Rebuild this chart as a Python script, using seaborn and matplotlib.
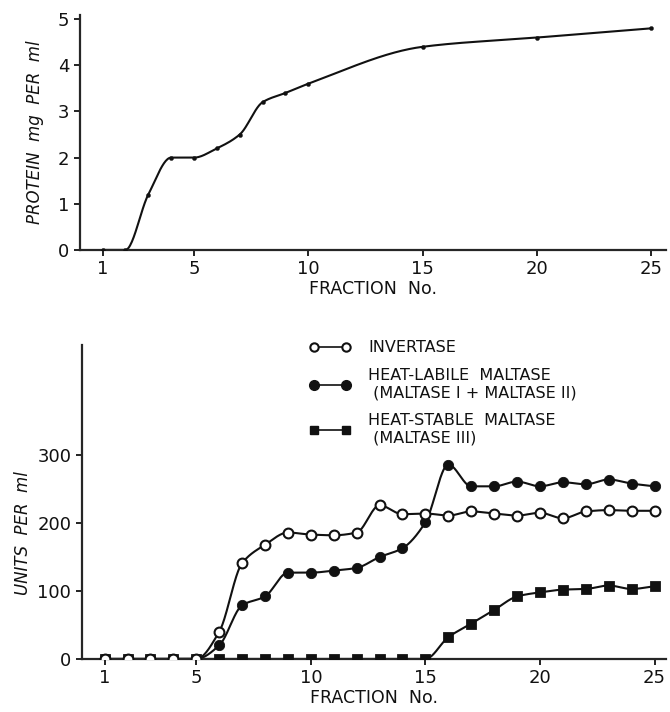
import numpy as np
import pandas as pd
import matplotlib
matplotlib.use("Agg")
import matplotlib.pyplot as plt
import seaborn as sns
from matplotlib.lines import Line2D

# ---------------- data ----------------
protein_fraction = [1, 2, 3, 4, 5, 6, 7, 8, 9, 10, 15, 20, 25]
protein_mg = [0, 0, 1.2, 2.0, 2.0, 2.2, 2.5, 3.2, 3.4, 3.6, 4.4, 4.6, 4.8]

fraction = list(range(1, 26))
invertase = [0, 0, 0, 0, 0, 40, 141, 168, 186, 183, 182, 186, 226, 213, 214,
             211, 217, 214, 211, 215, 207, 217, 219, 218, 218]
heat_labile = [0, 0, 0, 0, 0, 20, 79, 92, 127, 127, 130, 134, 150, 163, 201,
               286, 254, 254, 261, 254, 260, 257, 264, 258, 254]
heat_stable = [0, 0, 0, 0, 0, 0, 0, 0, 0, 0, 0, 0, 0, 0, 0,
               32, 52, 72, 92, 98, 102, 103, 108, 103, 107]

x_ticks = [1, 5, 10, 15, 20, 25]
protein_ticks = [0, 1, 2, 3, 4, 5]
units_ticks = [0, 100, 200, 300]

legend_labels = ["INVERTASE",
                 "HEAT-LABILE  MALTASE\n (MALTASE I + MALTASE II)",
                 "HEAT-STABLE  MALTASE\n (MALTASE III)"]


def pchip(x, y, xs):
    x = np.asarray(x, float)
    y = np.asarray(y, float)
    h = np.diff(x)
    d = np.diff(y) / h
    n = len(x)
    m = np.zeros(n)
    for k in range(1, n - 1):
        if d[k - 1] * d[k] <= 0:
            m[k] = 0.0
        else:
            w1 = 2 * h[k] + h[k - 1]
            w2 = h[k] + 2 * h[k - 1]
            m[k] = (w1 + w2) / (w1 / d[k - 1] + w2 / d[k])
    m[0] = d[0] if d[0] * (d[1] if n > 2 else d[0]) > 0 else 0
    m[-1] = d[-1]
    idx = np.clip(np.searchsorted(x, xs) - 1, 0, n - 2)
    t = (xs - x[idx]) / h[idx]
    h00 = 2 * t**3 - 3 * t**2 + 1
    h10 = t**3 - 2 * t**2 + t
    h01 = -2 * t**3 + 3 * t**2
    h11 = t**3 - t**2
    return (h00 * y[idx] + h10 * h[idx] * m[idx] + h01 * y[idx + 1]
            + h11 * h[idx] * m[idx + 1])


sns.set_style("ticks")
plt.rcParams["font.family"] = ["DejaVu Sans"]
plt.rcParams["axes.linewidth"] = 1.6
plt.rcParams["xtick.major.width"] = 1.3
plt.rcParams["ytick.major.width"] = 1.3

ink = "#111111"
fig = plt.figure(figsize=(6.7, 7.12), dpi=100)

# ---------------- top panel ----------------
ax1 = fig.add_axes([0.119, 0.649, 0.875, 0.33])
xs = np.linspace(1, 25, 600)
sm = pd.DataFrame({"x": xs, "y": pchip(protein_fraction, protein_mg, xs)})
sns.lineplot(data=sm, x="x", y="y", ax=ax1, color=ink, lw=1.5)
sns.scatterplot(x=protein_fraction, y=protein_mg, ax=ax1, color=ink,
                s=9, edgecolor=ink, zorder=4)
ax1.set_xlim(0, 25.65)
ax1.set_ylim(0, 5.09)
ax1.set_xticks(x_ticks)
ax1.set_yticks(protein_ticks)
ax1.tick_params(labelsize=13, length=4, colors=ink)
ax1.set_xlabel("FRACTION  No.", fontsize=12.5, labelpad=1, color=ink)
ax1.set_ylabel("PROTEIN  mg  PER  ml", fontsize=12, style="italic",
               labelpad=10, color=ink)
sns.despine(ax=ax1)

# ---------------- bottom panel ----------------
ax2 = fig.add_axes([0.122, 0.0745, 0.872, 0.441])
xs2 = np.linspace(1, 25, 1200)
for ys in (heat_stable, heat_labile, invertase):
    d = pd.DataFrame({"x": xs2, "y": pchip(fraction, ys, xs2)})
    sns.lineplot(data=d, x="x", y="y", ax=ax2, color=ink, lw=1.5)

sns.scatterplot(x=fraction, y=heat_stable, ax=ax2, marker="s", s=50,
                color=ink, edgecolor=ink, zorder=4)
sns.scatterplot(x=fraction, y=heat_labile, ax=ax2, marker="o", s=55,
                color=ink, edgecolor=ink, zorder=5)
sns.scatterplot(x=fraction, y=invertase, ax=ax2, marker="o", s=50,
                color="white", edgecolor=ink, linewidth=1.5, zorder=6)

ax2.set_xlim(0, 25.5)
ax2.set_ylim(0, 462)
ax2.set_xticks(x_ticks)
ax2.set_yticks(units_ticks)
ax2.tick_params(labelsize=13, length=4, colors=ink)
ax2.set_xlabel("FRACTION  No.", fontsize=12.5, labelpad=1, color=ink)
ax2.set_ylabel("UNITS  PER  ml", fontsize=12, style="italic", color=ink)
ax2.yaxis.set_label_coords(-0.085, 0.40)
sns.despine(ax=ax2)

handles = [
    Line2D([], [], color=ink, lw=1.2, marker="o", ms=6, mfc="white",
           mec=ink, mew=1.5),
    Line2D([], [], color=ink, lw=1.2, marker="o", ms=7, mfc=ink, mec=ink),
    Line2D([], [], color=ink, lw=1.2, marker="s", ms=6, mfc=ink, mec=ink),
]
leg = ax2.legend(handles, legend_labels, loc="upper left",
                 bbox_to_anchor=(0.365, 1.06), frameon=False, numpoints=2,
                 fontsize=11.5, handlelength=2.6, handletextpad=1.1,
                 labelspacing=0.8)
for t in leg.get_texts():
    t.set_color(ink)

fig.savefig("out.png", dpi=100)
